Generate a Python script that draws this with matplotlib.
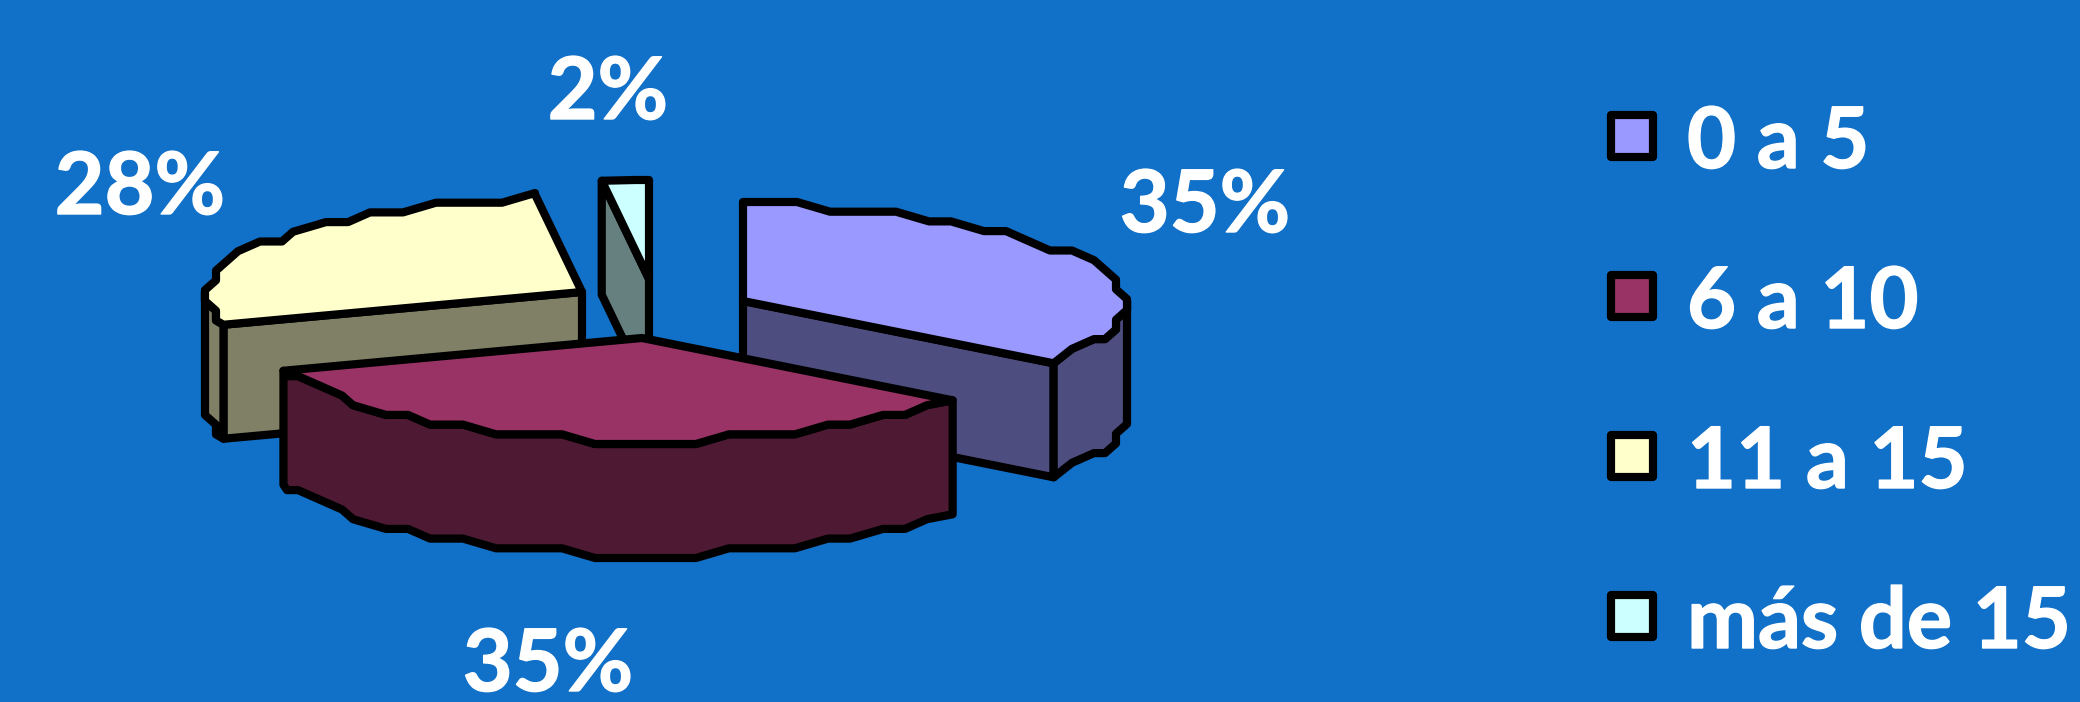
import numpy as np
import matplotlib
matplotlib.use("Agg")
import matplotlib.pyplot as plt
import matplotlib.patheffects as pe
from matplotlib.patches import Polygon, Rectangle

categories = ["0 a 5", "6 a 10", "11 a 15", "más de 15"]
shares = [35, 35, 28, 2]
top_colors = ["#9999FF", "#993366", "#FFFFCC", "#CCFFFF"]
side_colors = ["#4D4D80", "#4D1933", "#808066", "#668080"]

BG = "#1170C8"
FONT = "Lato"
LW = 5.9

# pie geometry in pixels, the ellipse is a little bigger towards the front and right
RX_RIGHT, RX_LEFT = 384, 377
RY_BACK, RY_FRONT = 99, 106
DEPTH = 114
STEP_DEG = 360.0 / 70
STEP_X, STEP_Y = 11, 9.7
centers = [(743, 301), (642, 338), (582, 292), (649, 279)]
draw_order = [2, 3, 0, 1]
label_pos = [(1205, 232), (548, 691), (140, 214), (608, 119)]


def offset(deg):
    t = np.radians(deg)
    rx = RX_RIGHT if np.sin(t) >= 0 else RX_LEFT
    ry = RY_BACK if np.cos(t) >= 0 else RY_FRONT
    return rx * np.sin(t), -ry * np.cos(t), ry, rx


def point(center, deg):
    x, y, _, _ = offset(deg)
    return center[0] + x, center[1] + y


# the rim is stepped: samples are coarse and both coordinates drop in fixed levels
def stepped(center, deg):
    x, y, ry, rx = offset(deg)
    level = np.ceil((ry - abs(y) - 1.5) / STEP_Y)
    h = max(ry - max(level, 0) * STEP_Y, 0)
    w = rx - np.round((rx - abs(x)) / STEP_X) * STEP_X
    return center[0] + np.sign(x) * w, center[1] + np.sign(y) * h


def arc(center, a, b):
    pts = [point(center, a)]
    deg = STEP_DEG / 2
    while deg < 360:
        if a + 0.5 < deg < b - 0.5:
            p = stepped(center, deg)
            if p != pts[-1]:
                pts.append(p)
        deg += STEP_DEG
    pts.append(point(center, b))
    return pts


def shape(ax, pts, color):
    ax.add_patch(Polygon(pts, closed=True, facecolor=color, edgecolor="black",
                         linewidth=LW, joinstyle="round"))


def down(pts):
    return [(x, y + DEPTH) for x, y in pts]


fig = plt.figure(figsize=(20.8, 7.02), dpi=100, facecolor=BG)
ax = fig.add_axes([0, 0, 1, 1])
ax.set_xlim(0, 2080)
ax.set_ylim(702, 0)
ax.axis("off")

angles = np.concatenate([[0], np.cumsum(shares) * 360.0 / sum(shares)])
heavy = [pe.withStroke(linewidth=1.0, foreground="white")]

for i in draw_order:
    c = centers[i]
    a, b = angles[i], angles[i + 1]

    # radial walls that face the viewer
    for deg, visible in ((a, np.sin(np.radians(a)) < -1e-6), (b, np.sin(np.radians(b)) > 1e-6)):
        if visible:
            edge = [c, point(c, deg)]
            shape(ax, edge + down(edge)[::-1], side_colors[i])

    # outer rim, front half only
    lo, hi = max(a, 90), min(b, 270)
    if lo < hi:
        rim = arc(c, lo, hi)
        shape(ax, rim + down(rim)[::-1], side_colors[i])

    shape(ax, [c] + arc(c, a, b), top_colors[i])

for i, (x, y) in enumerate(label_pos):
    ax.text(x, y, "%d%%" % shares[i], color="white", fontsize=62, fontweight="bold",
            family=FONT, ha="center", va="baseline", path_effects=heavy)

# legend
for i, name in enumerate(categories):
    y = 136 + 160 * i
    ax.add_patch(Rectangle((1611, y - 21), 42, 42, facecolor=top_colors[i], edgecolor="black",
                           linewidth=LW, joinstyle="round"))
    ax.text(1687, y + 32, name, color="white", fontsize=61, fontweight="bold",
            family=FONT, ha="left", va="baseline", path_effects=heavy)

fig.savefig("out.png", dpi=100, facecolor=BG)
